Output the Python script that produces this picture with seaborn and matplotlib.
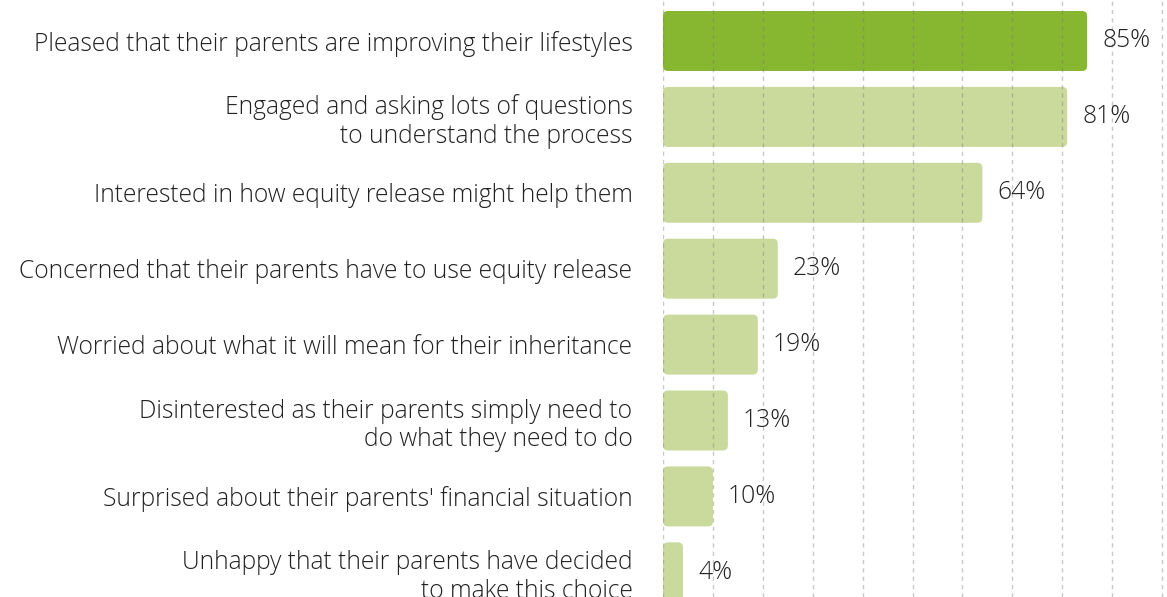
import matplotlib
matplotlib.use("Agg")
import matplotlib.pyplot as plt
import seaborn as sns
import pandas as pd
from matplotlib.patches import FancyBboxPatch

categories = [
    "Pleased that their parents are improving their lifestyles",
    "Engaged and asking lots of questions\nto understand the process",
    "Interested in how equity release might help them",
    "Concerned that their parents have to use equity release",
    "Worried about what it will mean for their inheritance",
    "Disinterested as their parents simply need to\ndo what they need to do",
    "Surprised about their parents' financial situation",
    "Unhappy that their parents have decided\nto make this choice",
]
values = [85, 81, 64, 23, 19, 13, 10, 4]
value_labels = ["85%", "81%", "64%", "23%", "19%", "13%", "10%", "4%"]

DARK = "#87B630"
LIGHT = "#C9DA9C"
colors = [DARK] + [LIGHT] * (len(values) - 1)

sns.set_theme(style="white")
plt.rcParams['font.family'] = ['Open Sans', 'DejaVu Sans']

FS = 17.7
WEIGHT = 300
TXT = "#222222"

df = pd.DataFrame({"cat": categories, "val": values})

fig = plt.figure(figsize=(11.67, 5.97), dpi=100)
ax = fig.add_axes([663 / 1167, 0, 1 - 663 / 1167, 1])

sns.barplot(data=df, x="val", y="cat", hue="cat", palette=colors, legend=False,
            orient="h", width=0.79, ax=ax, saturation=1)

# rounded bars
x_px_per_unit = (1086 - 663) / 85.0
y_px_per_unit = 75.9
r_px = 5
rx = r_px / x_px_per_unit
aspect = (r_px / y_px_per_unit) / rx
for p in list(ax.patches):
    x0, y0 = p.get_x(), p.get_y()
    w, h = p.get_width(), p.get_height()
    fc = p.get_facecolor()
    p.remove()
    fb = FancyBboxPatch((x0, y0), w, h,
                        boxstyle=f"round,pad=0,rounding_size={rx}",
                        mutation_aspect=aspect, facecolor=fc, edgecolor="none",
                        zorder=1)
    ax.add_patch(fb)

ax.set_xlim(0, 101)
ax.set_ylim(7.325, -0.54)
ax.set_xticks(range(0, 101, 10))
ax.xaxis.grid(True, linestyle=(0, (3, 3)), color="#777777", alpha=0.4, linewidth=1)
ax.set_axisbelow(False)
ax.yaxis.grid(False)
for s in ax.spines.values():
    s.set_visible(False)
ax.tick_params(axis="x", length=0, labelbottom=False)
ax.tick_params(axis="y", length=0, pad=22)
ax.set_xlabel("")
ax.set_ylabel("")
for lab in ax.get_yticklabels():
    lab.set_fontsize(FS)
    lab.set_color(TXT)
    lab.set_fontweight(WEIGHT)
    lab.set_linespacing(1.2)
    lab.set_horizontalalignment("right")

for i, (v, t) in enumerate(zip(values, value_labels)):
    ax.annotate(t, xy=(v, i), xytext=(15, 0), textcoords="offset pixels",
                va="center", ha="left", fontsize=FS, color=TXT,
                fontweight=WEIGHT)

fig.savefig("out.png", dpi=100)
